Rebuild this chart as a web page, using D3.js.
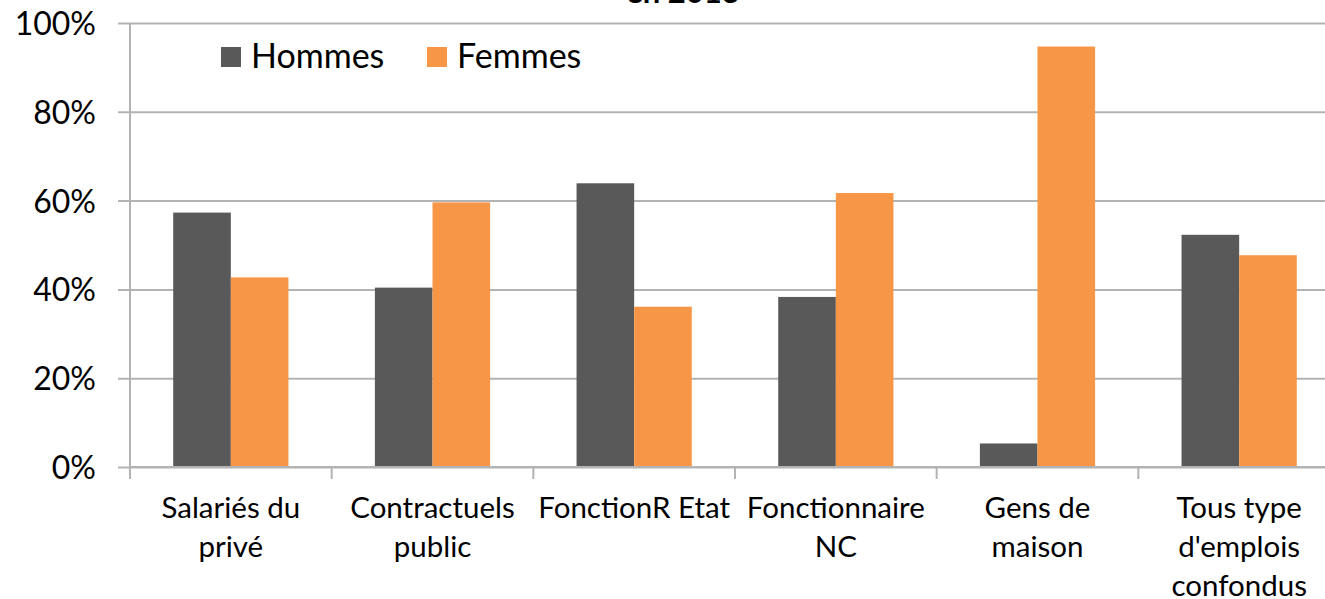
<!DOCTYPE html>
<html>
<head>
<meta charset="utf-8">
<script src="https://cdn.jsdelivr.net/npm/d3@7"></script>
<style>
  body { margin: 0; background: #fff; }
  svg { display: block; font-family: Lato, sans-serif; }
  .tick text { fill: #000; }
</style>
</head>
<body>
<svg width="1325" height="599"></svg>
<script>
const categories = ['Salariés du privé', 'Contractuels public', 'FonctionR Etat', 'Fonctionnaire NC', 'Gens de maison', "Tous type d'emplois confondus"];
const series = ['Hommes', 'Femmes'];
const hommes = [57.3, 40.4, 63.9, 38.3, 5.3, 52.3];
const femmes = [42.7, 59.6, 36.1, 61.7, 94.7, 47.7];
const yTicks = [0, 20, 40, 60, 80, 100];
const colors = ['#595959', '#f79646'];
const title = 'en 2013';

const svg = d3.select('svg');

const margin = { top: 23, left: 130, bottom: 132 };
const innerWidth = 1210;
const innerHeight = 599 - margin.top - margin.bottom;

const g = svg.append('g')
  .attr('transform', `translate(${margin.left},${margin.top})`);

const xScale = d3.scaleBand()
  .domain(categories)
  .range([0, innerWidth]);

// excel gap width 150%
const xSub = d3.scaleBand()
  .domain(series)
  .range([0, xScale.bandwidth()])
  .paddingOuter(0.75)
  .paddingInner(0);

const yScale = d3.scaleLinear()
  .domain([0, 100])
  .range([innerHeight, 0]);

const yAxis = d3.axisLeft(yScale)
  .tickValues(yTicks)
  .tickFormat(d => d + '%')
  .tickSize(-innerWidth - 12)
  .tickPadding(34);

const yAxisG = g.append('g').call(yAxis)
  .attr('font-family', 'Lato, sans-serif');
yAxisG.select('.domain').remove();
yAxisG.selectAll('.tick line')
  .attr('x1', -12)
  .attr('x2', innerWidth)
  .attr('stroke', '#b3b3b3')
  .attr('stroke-width', 2);
yAxisG.selectAll('.tick text')
  .attr('font-size', 32)
  .attr('dy', '0.36em');

const rows = categories.map((c, i) => ({ cat: c, values: [hommes[i], femmes[i]] }));

const groups = g.selectAll('.cat').data(rows)
  .enter().append('g')
  .attr('class', 'cat')
  .attr('transform', d => `translate(${xScale(d.cat)},0)`);

groups.selectAll('rect')
  .data(d => d.values.map((v, j) => ({ key: series[j], value: v })))
  .enter().append('rect')
  .attr('x', d => xSub(d.key))
  .attr('y', d => yScale(d.value))
  .attr('width', xSub.bandwidth())
  .attr('height', d => innerHeight - yScale(d.value))
  .attr('fill', d => colors[series.indexOf(d.key)]);

// x axis
const xAxisG = g.append('g')
  .attr('transform', `translate(0,${innerHeight})`);

xAxisG.append('line')
  .attr('x1', 0).attr('x2', innerWidth)
  .attr('stroke', '#b3b3b3').attr('stroke-width', 2);

xAxisG.selectAll('.xtick')
  .data(d3.range(categories.length + 1))
  .enter().append('line')
  .attr('x1', i => i * xScale.step())
  .attr('x2', i => i * xScale.step())
  .attr('y1', 0).attr('y2', 12)
  .attr('stroke', '#b3b3b3').attr('stroke-width', 2);

g.append('line')
  .attr('x1', 0).attr('x2', 0)
  .attr('y1', 0).attr('y2', innerHeight + 12)
  .attr('stroke', '#b3b3b3').attr('stroke-width', 2);

const labels = xAxisG.selectAll('.xlabel')
  .data(categories)
  .enter().append('text')
  .attr('class', 'xlabel')
  .attr('x', d => xScale(d) + xScale.bandwidth() / 2)
  .attr('y', 51)
  .attr('text-anchor', 'middle')
  .attr('font-size', 29.5)
  .attr('fill', '#000');

function wrap(text, maxWidth) {
  text.each(function(d) {
    const t = d3.select(this);
    const words = d.split(' ');
    const x = t.attr('x');
    let line = [];
    let tspan = t.append('tspan').attr('x', x).attr('dy', 0);
    words.forEach(w => {
      line.push(w);
      tspan.text(line.join(' '));
      if (tspan.node().getComputedTextLength() > maxWidth && line.length > 1) {
        line.pop();
        tspan.text(line.join(' '));
        line = [w];
        tspan = t.append('tspan').attr('x', x).attr('dy', 39).text(w);
      }
    });
  });
}
labels.call(wrap, 197);

// legend
const legend = svg.append('g')
  .attr('transform', 'translate(221,47)');

const legendItems = legend.selectAll('g').data(series)
  .enter().append('g')
  .attr('transform', (d, i) => `translate(${i * 206},0)`);

legendItems.append('rect')
  .attr('width', 20).attr('height', 20)
  .attr('fill', (d, i) => colors[i]);

legendItems.append('text')
  .attr('x', 30)
  .attr('y', 21)
  .attr('font-size', 34)
  .attr('fill', '#000')
  .text(d => d);

// title, mostly cropped off the top
svg.append('text')
  .attr('x', 683)
  .attr('y', 3)
  .attr('text-anchor', 'middle')
  .attr('font-size', 31)
  .attr('font-weight', 'bold')
  .attr('fill', '#000')
  .text(title);
</script>
</body>
</html>
